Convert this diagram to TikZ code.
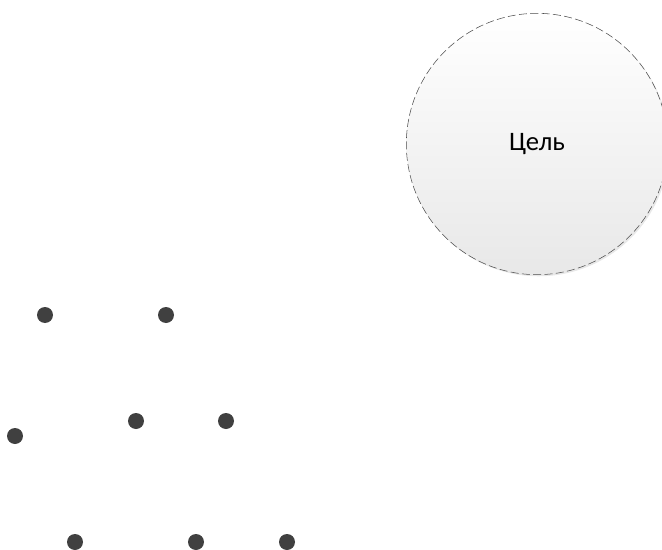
\documentclass[tikz,border=0pt]{standalone}
\usepackage{fontspec}
\setmainfont{Carlito}
\usetikzlibrary{shadows}
\definecolor{dotgray}{HTML}{404040}
\begin{document}
\begin{tikzpicture}[x=0.75pt,y=-0.75pt,
	goal/.style={circle,draw=black!70,thin,dash pattern=on 6pt off 2.5pt,inner sep=0pt,
		minimum size=196pt,top color=white,bottom color=black!9,
		drop shadow={shadow xshift=1.2pt,shadow yshift=-1.2pt,opacity=0.18,fill=black!50},
		font=\fontsize{20}{24}\selectfont},
	dot/.style={circle,fill=dotgray,inner sep=0pt,minimum size=12pt}]
	\useasboundingbox (0,0) rectangle (662,550);
	\node[goal] (cel) at (537,144) {Цель};
	\foreach \x/\y [count=\i] in {45/315,166/315,15/436,136/421,226/421,75/542,196/542,287/542}
	\node[dot] (t\i) at (\x,\y) {};
\end{tikzpicture}
\end{document}
